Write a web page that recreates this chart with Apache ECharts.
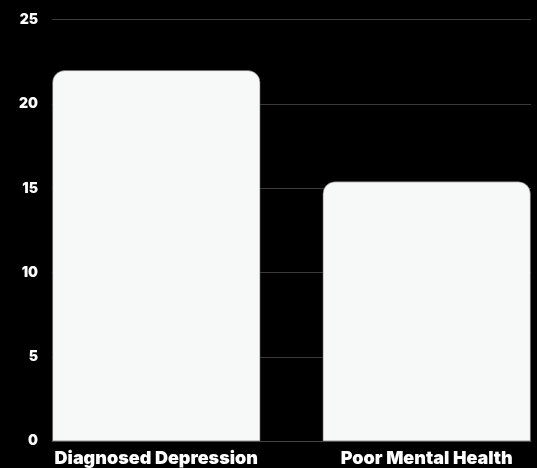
<!DOCTYPE html>
<html><head><meta charset="utf-8">
<script src="https://cdn.jsdelivr.net/npm/echarts@6/dist/echarts.min.js"></script>
<style>html,body{margin:0;padding:0;background:#000;}#c{width:537px;height:468px;}</style>
</head><body><div id="c"></div>
<script>
const categories = ['Diagnosed Depression', 'Poor Mental Health'];
const values = [22, 15.4];
const yTicks = { min: 0, max: 25, interval: 5 };

const chart = echarts.init(document.getElementById('c'));
const fontFam = 'Inter, "Open Sans", sans-serif';
chart.setOption({
  backgroundColor: '#000',
  animation: false,
  grid: { left: 52, right: 6, top: 19.7, bottom: 26.8 },
  xAxis: {
    type: 'category', data: [''],
    axisLine: { show: true, lineStyle: { color: '#444', width: 1 } },
    axisTick: { show: false }, axisLabel: { show: false }
  },
  yAxis: {
    type: 'value', min: yTicks.min, max: yTicks.max, interval: yTicks.interval,
    axisLine: { show: false }, axisTick: { show: false },
    splitLine: { lineStyle: { color: '#3a3a3a', width: 1 } },
    axisLabel: { color: '#fff', fontFamily: fontFam, fontWeight: 900, fontSize: 14, margin: 14 }
  },
  series: categories.map((name, i) => ({
    type: 'bar', name: name, data: [values[i]], barWidth: 208, barGap: '30%',
    itemStyle: { color: '#f7f9f9', borderRadius: [12, 12, 0, 0], borderColor: '#666', borderWidth: 0.6 },
    label: {
      show: true, position: 'bottom', distance: 8, formatter: name,
      color: '#fff', fontFamily: fontFam, fontWeight: 900, fontSize: 18
    }
  }))
});
</script></body></html>
